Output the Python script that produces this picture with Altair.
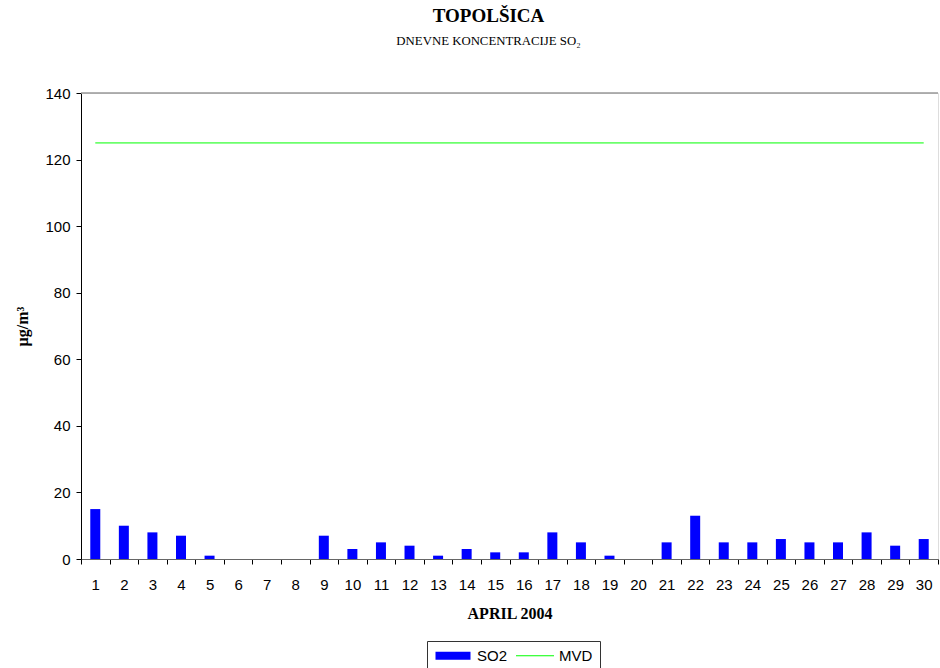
import altair as alt
import pandas as pd

# Daily SO2 concentrations, Topolšica, April 2004 (µg/m³)
days = [str(d) for d in range(1, 31)]
so2 = [15, 10, 8, 7, 1, 0, 0, 0, 7, 3, 5, 4, 1, 3, 2, 2, 8, 5, 1, 0,
       5, 13, 5, 5, 6, 5, 5, 8, 4, 6]

# Limit value (MVD) drawn across the month
mvd_limit = 125
mvd_span = ["1", "30"]

y_ticks = [0, 20, 40, 60, 80, 100, 120, 140]
series_names = ["SO2", "MVD"]
series_colors = ["#0000ff", "#00ff00"]

bars_df = pd.DataFrame({"day": days, "value": so2, "series": series_names[0]})
mvd_df = pd.DataFrame({"start": [mvd_span[0]], "end": [mvd_span[1]],
                       "value": [mvd_limit], "series": [series_names[1]]})
top_df = pd.DataFrame({"value": [y_ticks[-1]]})

SANS = "Liberation Sans"
SERIF = "Liberation Serif"

x_scale = alt.Scale(domain=days, paddingInner=0, paddingOuter=0)
y_scale = alt.Scale(domain=[y_ticks[0], y_ticks[-1]], nice=False)

x_axis = alt.Axis(
    title="APRIL 2004", titleFont=SERIF, titleFontSize=16, titleFontWeight="bold",
    titleColor="black", titlePadding=13,
    labelFont=SANS, labelFontSize=15, labelColor="black", labelPadding=13,
    labelAngle=0, tickBand="extent", tickSize=5, tickColor="black",
    domainColor="#666666", grid=False,
)
y_axis = alt.Axis(
    title="µg/m³", titleFont=SERIF, titleFontSize=16, titleFontWeight="bold",
    titleColor="black", titlePadding=14,
    values=y_ticks, labelFont=SANS, labelFontSize=15, labelColor="black",
    labelPadding=6, tickSize=5, tickColor="black", domainColor="black", grid=False,
)

# Legend symbols: a wide filled bar for SO2, a thin line for MVD
legend = alt.Legend(
    title=None, orient="none", legendX=346, legendY=548, direction="horizontal",
    strokeColor="#333333", padding=7, labelFont=SANS, labelFontSize=15,
    labelColor="black", symbolSize=100, symbolOffset=11.5, labelOffset=16.5,
    columnPadding=8, symbolStrokeWidth=0, symbolOpacity=1,
    symbolType={"expr": "datum.value === 'SO2' ? 'M-3.5,-0.8H3.5V0.8H-3.5Z' : 'M-3.8,-0.1H3.8V0.1H-3.8Z'"},
    symbolFillColor={"expr": "datum.value === 'SO2' ? '#0000ff' : '#00ff00'"},
)
color = alt.Color("series:N", scale=alt.Scale(domain=series_names, range=series_colors),
                  legend=legend)

bars = alt.Chart(bars_df).mark_bar(size=10, opacity=1).encode(
    x=alt.X("day:N", scale=x_scale, axis=x_axis),
    y=alt.Y("value:Q", scale=y_scale, axis=y_axis),
    color=color,
)

mvd = alt.Chart(mvd_df).mark_rule(strokeWidth=1, opacity=1).encode(
    x=alt.X("start:N", scale=x_scale),
    x2="end:N",
    y=alt.Y("value:Q", scale=y_scale),
    color=color,
)

top_line = alt.Chart(top_df).mark_rule(color="#999999", strokeWidth=1.5).encode(
    y=alt.Y("value:Q", scale=y_scale),
)

chart = alt.layer(bars, mvd, top_line).properties(
    width=857,
    height=466,
    autosize=alt.AutoSizeParams(type="none"),
    padding={"left": 81, "top": 93, "right": 2, "bottom": 109},
    title=alt.TitleParams(
        text="TOPOLŠICA", subtitle="DNEVNE  KONCENTRACIJE  SO₂",
        font=SERIF, fontSize=19, fontWeight="bold", color="black",
        subtitleFont=SERIF, subtitleFontSize=12.8, subtitleColor="black",
        subtitlePadding=9, anchor="middle", dx=-21, offset=38,
    ),
).configure_view(stroke=None).configure(background="white")

chart.save("out.html", embed_options={"renderer": "svg", "actions": False})
